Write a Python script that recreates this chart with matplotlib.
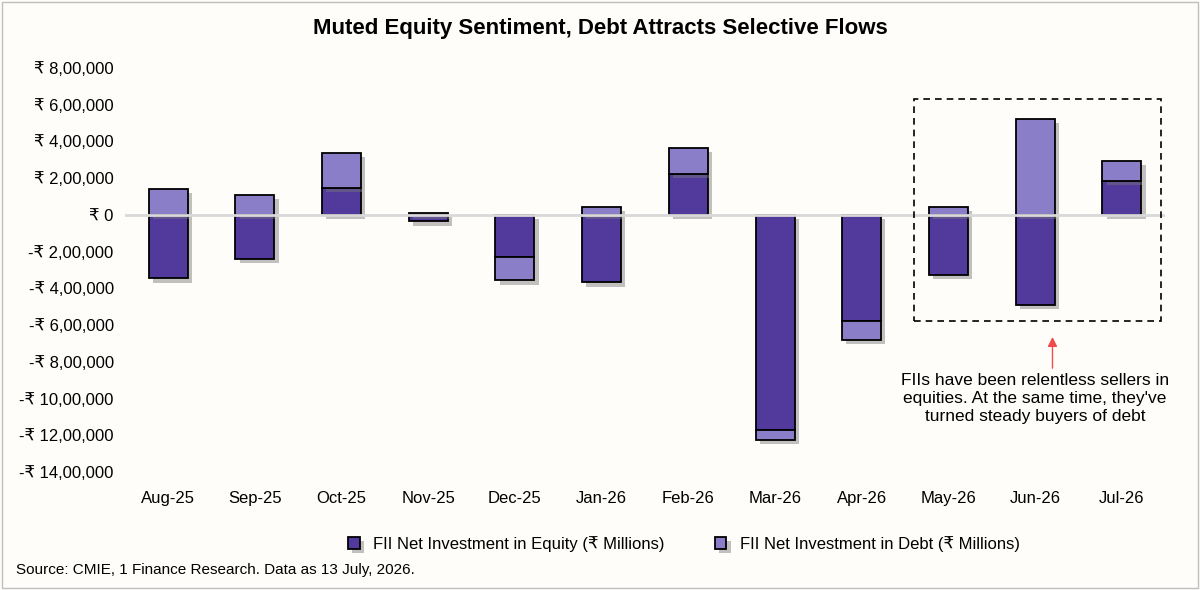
import matplotlib.pyplot as plt
import matplotlib.patheffects as pe
from matplotlib.patches import Rectangle
from matplotlib.ticker import FuncFormatter
import numpy as np

months = ["Aug-25", "Sep-25", "Oct-25", "Nov-25", "Dec-25", "Jan-26",
          "Feb-26", "Mar-26", "Apr-26", "May-26", "Jun-26", "Jul-26"]
equity = [-346000, -238000, 146000, -36000, -227000, -368000,
          223000, -1173000, -578000, -328000, -492000, 184000]
debt = [140000, 108000, 189000, 9000, -130000, 43000,
        141000, -52000, -103000, 43000, 521000, 110000]

dark = "#523A9C"
light = "#8B7EC8"
bg = "#FEFDFA"


def inr(v, pos=None):
    v = int(round(v))
    sign = "-" if v < 0 else ""
    s = str(abs(v))
    if len(s) > 3:
        head, tail = s[:-3], s[-3:]
        parts = []
        while len(head) > 2:
            parts.insert(0, head[-2:])
            head = head[:-2]
        if head:
            parts.insert(0, head)
        s = ",".join(parts) + "," + tail
    return f"{sign}₹ {s}"


plt.rcParams['font.family'] = ['Liberation Sans', 'DejaVu Sans']

fig = plt.figure(figsize=(12, 5.9), dpi=100, facecolor=bg)
fig.patches.append(Rectangle((0.002, 0.003), 0.996, 0.994, transform=fig.transFigure,
                             fill=False, edgecolor="#BFBFBF", lw=1))
ax = fig.add_axes([0.104, 0.2, 0.867, 0.685], facecolor=bg)

x = np.arange(len(months))
eq = np.array(equity)
db = np.array(debt)
db_bottom = np.where((db >= 0) & (eq >= 0), eq, np.where((db < 0) & (eq < 0), eq, 0))

shadow = [pe.SimplePatchShadow(offset=(3, -3), shadow_rgbFace="#777777", alpha=0.45), pe.Normal()]
ax.bar(x, eq, width=0.45, color=dark, edgecolor="black", lw=1.3,
       label="FII Net Investment in Equity (₹ Millions)", path_effects=shadow, zorder=3)
ax.bar(x, db, width=0.45, bottom=db_bottom, color=light, edgecolor="black", lw=1.3,
       label="FII Net Investment in Debt (₹ Millions)", path_effects=shadow, zorder=3)
ax.axhline(0, color="#D9D9D9", lw=2, zorder=4)

ax.set_xlim(-0.5, len(months) - 0.5)
ax.set_ylim(-1400000, 800000)
ax.set_yticks(np.arange(-1400000, 800001, 200000))
ax.yaxis.set_major_formatter(FuncFormatter(inr))
ax.set_xticks(x)
ax.set_xticklabels(months)
ax.tick_params(axis="both", length=0, labelsize=12, colors="black", pad=8)
ax.tick_params(axis="x", pad=14)
for s in ax.spines.values():
    s.set_visible(False)

# highlight box around the last three months
ax.add_patch(Rectangle((8.6, -580000), 2.85, 1210000, fill=False, ls=(0, (4, 3)),
                       edgecolor="black", lw=1.2, zorder=5, clip_on=False))
ax.annotate("", xy=(10.2, -650000), xytext=(10.2, -850000),
            arrowprops=dict(arrowstyle="-|>", color="#F04A4A", lw=1, mutation_scale=14))
ax.text(10.0, -860000, "FIIs have been relentless sellers in\nequities. At the same time, they've\nturned steady buyers of debt",
        ha="center", va="top", fontsize=12.5, linespacing=1.25)

fig.suptitle("Muted Equity Sentiment, Debt Attracts Selective Flows",
             y=0.97, fontsize=16, fontweight="bold")
fig.legend(loc="center", bbox_to_anchor=(0.57, 0.078), ncol=2, frameon=False,
           fontsize=12, handlelength=0.7, handleheight=0.7, columnspacing=3)
fig.text(0.013, 0.027, "Source: CMIE, 1 Finance Research. Data as 13 July, 2026.", fontsize=11)

fig.savefig("out.png", facecolor=bg)
